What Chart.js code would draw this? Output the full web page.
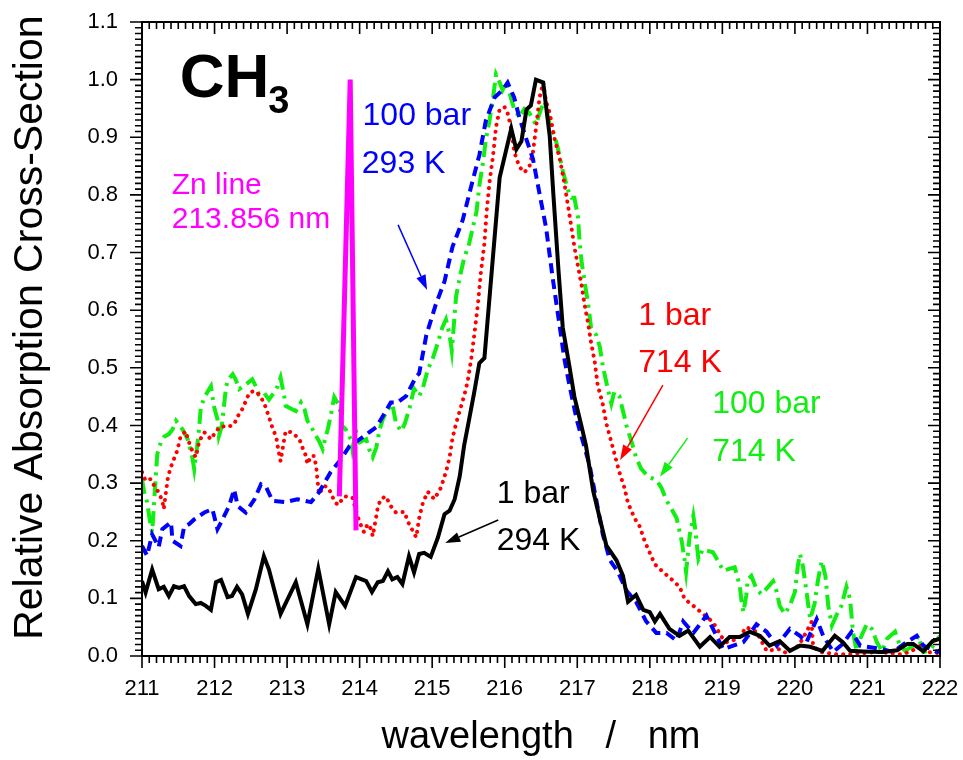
<!DOCTYPE html>
<html lang="en">
<head>
<meta charset="UTF-8">
<title>CH3 absorption</title>
<script src="https://cdn.jsdelivr.net/npm/chart.js"></script>
<style>
  html, body { margin: 0; padding: 0; background: #fff; }
</style>
</head>
<body>
<canvas id="grafico" width="963" height="760"></canvas>
<script>
// eixos
const xTicks = [211, 212, 213, 214, 215, 216, 217, 218, 219, 220, 221, 222];
const yTicks = [0.0, 0.1, 0.2, 0.3, 0.4, 0.5, 0.6, 0.7, 0.8, 0.9, 1.0, 1.1];

// 1 bar, 294 K (preto)
const wl1bar294 = [211.00,211.05,211.14,211.23,211.30,211.37,211.44,211.51,211.58,211.65,211.74,211.81,211.88,211.95,212.02,212.09,212.18,212.24,212.31,212.38,212.46,212.57,212.68,212.75,212.91,213.12,213.28,213.43,213.58,213.67,213.80,213.95,214.09,214.17,214.25,214.32,214.39,214.45,214.52,214.59,214.68,214.75,214.82,214.89,214.98,215.08,215.17,215.24,215.31,215.38,215.44,215.51,215.58,215.65,215.72,215.93,216.09,216.16,216.23,216.30,216.36,216.43,216.53,216.62,216.67,216.74,216.80,216.89,216.96,217.06,217.12,217.22,217.31,217.40,217.54,217.63,217.70,217.81,217.91,218.00,218.07,218.14,218.27,218.41,218.53,218.69,218.83,218.96,219.10,219.24,219.38,219.52,219.65,219.79,219.93,220.07,220.21,220.38,220.55,220.66,220.76,220.94,221.21,221.41,221.55,221.63,221.77,221.90,222.00];
const val1bar294 = [0.13,0.11,0.15,0.116,0.12,0.104,0.121,0.118,0.121,0.104,0.09,0.092,0.087,0.08,0.128,0.132,0.102,0.104,0.12,0.107,0.073,0.116,0.173,0.15,0.073,0.128,0.055,0.151,0.055,0.111,0.087,0.137,0.13,0.111,0.128,0.13,0.147,0.133,0.137,0.125,0.173,0.145,0.177,0.179,0.172,0.206,0.246,0.252,0.272,0.312,0.365,0.411,0.458,0.508,0.517,0.83,0.915,0.879,0.893,0.948,0.955,1.0,0.995,0.902,0.802,0.671,0.57,0.504,0.45,0.398,0.365,0.286,0.239,0.192,0.166,0.139,0.094,0.106,0.08,0.076,0.06,0.073,0.047,0.035,0.044,0.016,0.033,0.016,0.033,0.033,0.042,0.035,0.018,0.026,0.009,0.018,0.016,0.009,0.035,0.024,0.009,0.008,0.007,0.01,0.021,0.021,0.008,0.026,0.03];

// 100 bar, 293 K (azul)
const wl100bar293 = [211.00,211.07,211.14,211.23,211.28,211.40,211.42,211.53,211.58,211.65,211.72,211.86,211.97,212.04,212.09,212.20,212.27,212.32,212.43,212.55,212.64,212.71,212.80,212.98,213.14,213.33,213.44,213.60,213.74,213.86,214.00,214.13,214.23,214.32,214.43,214.52,214.64,214.78,214.82,214.92,215.05,215.17,215.28,215.42,215.54,215.65,215.74,215.86,215.97,216.04,216.13,216.20,216.30,216.39,216.48,216.57,216.66,216.76,216.82,216.89,216.99,217.08,217.17,217.26,217.35,217.45,217.56,217.68,217.81,217.95,218.09,218.23,218.37,218.46,218.60,218.78,219.01,219.29,219.47,219.61,219.75,219.93,220.07,220.16,220.30,220.39,220.53,220.66,220.78,220.90,221.21,221.35,221.54,221.68,221.77,221.96,222.00];
const val100bar293 = [0.191,0.174,0.211,0.189,0.22,0.232,0.2,0.191,0.224,0.229,0.237,0.249,0.255,0.22,0.232,0.26,0.289,0.26,0.249,0.272,0.298,0.293,0.269,0.267,0.272,0.267,0.284,0.319,0.341,0.364,0.376,0.388,0.397,0.416,0.44,0.44,0.451,0.485,0.49,0.557,0.61,0.65,0.71,0.756,0.816,0.869,0.929,0.969,0.982,0.995,0.969,0.935,0.896,0.862,0.802,0.743,0.657,0.57,0.517,0.471,0.411,0.371,0.331,0.272,0.212,0.166,0.146,0.113,0.094,0.06,0.04,0.04,0.027,0.06,0.04,0.07,0.012,0.024,0.055,0.042,0.018,0.047,0.035,0.024,0.064,0.035,0.007,0.021,0.042,0.018,0.012,0.007,0.024,0.035,0.018,0.007,0.01];

// 1 bar, 714 K (vermelho)
const wl1bar714 = [211.00,211.05,211.12,211.17,211.23,211.28,211.30,211.33,211.36,211.42,211.47,211.50,211.53,211.60,211.67,211.74,211.79,211.86,211.95,212.02,212.09,212.18,212.27,212.32,212.38,212.43,212.48,212.55,212.61,212.68,212.75,212.80,212.85,212.87,212.91,212.96,212.98,213.07,213.17,213.21,213.26,213.28,213.33,213.37,213.40,213.42,213.44,213.51,213.56,213.60,213.65,213.70,213.79,213.90,213.97,214.02,214.06,214.11,214.16,214.18,214.23,214.25,214.29,214.36,214.43,214.50,214.62,214.66,214.72,214.78,214.82,214.87,214.94,215.03,215.12,215.19,215.24,215.28,215.33,215.38,215.44,215.49,215.54,215.58,215.63,215.67,215.72,215.75,215.79,215.84,215.88,215.93,216.00,216.04,216.09,216.13,216.20,216.27,216.34,216.39,216.43,216.48,216.53,216.57,216.62,216.69,216.76,216.82,216.87,216.92,216.96,217.01,217.06,217.10,217.15,217.19,217.24,217.28,217.35,217.40,217.47,217.54,217.58,217.65,217.70,217.79,217.86,217.93,218.00,218.07,218.18,218.30,218.41,218.48,218.62,218.78,218.87,218.99,219.06,219.22,219.33,219.47,219.61,219.79,219.88,220.05,220.16,220.23,220.25,220.34,220.57,220.76,220.94,221.13,221.31,221.45,221.59,221.73,221.79,222.00];
const val1bar714 = [0.319,0.304,0.307,0.295,0.284,0.269,0.255,0.284,0.312,0.336,0.35,0.364,0.38,0.39,0.362,0.345,0.373,0.388,0.376,0.39,0.399,0.397,0.402,0.416,0.428,0.442,0.457,0.46,0.454,0.44,0.415,0.395,0.38,0.364,0.338,0.376,0.39,0.388,0.376,0.362,0.347,0.333,0.347,0.347,0.33,0.304,0.281,0.295,0.293,0.284,0.269,0.262,0.277,0.275,0.243,0.226,0.215,0.229,0.22,0.208,0.243,0.258,0.272,0.277,0.26,0.249,0.25,0.234,0.22,0.206,0.239,0.265,0.285,0.272,0.292,0.319,0.345,0.378,0.404,0.425,0.451,0.477,0.517,0.557,0.61,0.664,0.716,0.77,0.822,0.869,0.918,0.949,0.952,0.942,0.915,0.875,0.849,0.839,0.849,0.875,0.915,0.969,0.995,0.962,0.942,0.896,0.862,0.822,0.783,0.743,0.71,0.676,0.643,0.61,0.577,0.544,0.511,0.471,0.438,0.404,0.371,0.338,0.319,0.292,0.265,0.239,0.225,0.199,0.179,0.159,0.146,0.133,0.12,0.099,0.085,0.068,0.059,0.033,0.024,0.03,0.05,0.042,0.009,0.012,0.005,0.018,0.042,0.059,0.018,0.007,0.003,0.003,0.005,0.007,0.005,0.003,0.007,0.018,0.007,0.005];

// 100 bar, 714 K (verde)
const wl100bar714 = [211.00,211.03,211.07,211.12,211.14,211.17,211.19,211.21,211.26,211.30,211.37,211.42,211.47,211.56,211.63,211.69,211.72,211.76,211.79,211.81,211.86,211.95,211.97,211.99,212.04,212.06,212.10,212.13,212.16,212.19,212.25,212.29,212.34,212.43,212.52,212.57,212.61,212.68,212.75,212.82,212.87,212.91,212.96,212.98,213.07,213.12,213.19,213.24,213.28,213.33,213.37,213.44,213.49,213.53,213.56,213.60,213.65,213.72,213.76,213.81,213.88,213.90,213.95,214.00,214.09,214.13,214.18,214.23,214.27,214.32,214.39,214.45,214.50,214.57,214.62,214.69,214.75,214.82,214.87,214.94,215.01,215.08,215.14,215.19,215.24,215.27,215.33,215.38,215.44,215.51,215.56,215.61,215.65,215.70,215.74,215.79,215.84,215.88,215.93,215.97,216.02,216.07,216.13,216.20,216.27,216.34,216.43,216.50,216.55,216.62,216.69,216.73,216.80,216.87,216.92,216.96,217.01,217.03,217.06,217.10,217.15,217.19,217.26,217.31,217.35,217.42,217.47,217.51,217.58,217.63,217.68,217.75,217.81,217.88,217.97,218.09,218.16,218.23,218.30,218.37,218.44,218.48,218.50,218.55,218.60,218.62,218.67,218.73,218.87,218.94,219.01,219.17,219.24,219.26,219.29,219.33,219.35,219.40,219.47,219.54,219.63,219.70,219.75,219.79,219.86,219.93,220.00,220.04,220.07,220.11,220.16,220.21,220.27,220.32,220.37,220.42,220.46,220.51,220.57,220.64,220.71,220.76,220.80,220.85,220.90,220.99,221.06,221.13,221.20,221.27,221.38,221.44,221.52,221.63,221.70,221.77,221.86,222.00];
const val100bar714 = [0.307,0.284,0.267,0.226,0.215,0.272,0.312,0.35,0.371,0.38,0.385,0.393,0.408,0.393,0.376,0.347,0.324,0.364,0.399,0.431,0.449,0.468,0.451,0.434,0.411,0.382,0.399,0.434,0.468,0.48,0.489,0.48,0.463,0.471,0.48,0.468,0.454,0.457,0.445,0.457,0.468,0.483,0.451,0.434,0.428,0.425,0.44,0.428,0.408,0.399,0.388,0.373,0.359,0.38,0.393,0.416,0.449,0.434,0.399,0.393,0.376,0.359,0.39,0.371,0.376,0.359,0.345,0.362,0.39,0.411,0.428,0.437,0.405,0.39,0.402,0.431,0.464,0.451,0.464,0.497,0.517,0.544,0.57,0.584,0.557,0.53,0.624,0.657,0.69,0.716,0.743,0.77,0.816,0.856,0.896,0.929,0.969,1.009,0.995,0.982,0.995,0.975,0.949,0.935,0.949,0.942,0.922,0.949,0.962,0.922,0.902,0.882,0.842,0.809,0.795,0.795,0.762,0.723,0.683,0.65,0.61,0.57,0.557,0.537,0.504,0.464,0.438,0.458,0.451,0.425,0.399,0.371,0.345,0.325,0.312,0.305,0.292,0.27,0.255,0.239,0.199,0.166,0.146,0.209,0.243,0.226,0.168,0.185,0.18,0.165,0.148,0.154,0.122,0.099,0.076,0.105,0.133,0.139,0.116,0.107,0.12,0.13,0.111,0.087,0.073,0.087,0.111,0.156,0.177,0.156,0.111,0.064,0.09,0.133,0.165,0.139,0.087,0.053,0.07,0.087,0.12,0.099,0.042,0.009,0.03,0.055,0.047,0.024,0.008,0.03,0.042,0.021,0.009,0.018,0.035,0.007,0.01,0.035];

// linha do Zn 213.856 nm
const wlZn = [213.72, 213.87, 213.95];
const valZn = [0.277, 1.0, 0.218];

function pares(xs, ys) {
    return xs.map(function (x, i) { return { x: x, y: ys[i] }; });
}

const fonte = "'Liberation Sans', Arial, sans-serif";

// textos e setas (coordenadas em nm / valor)
const textos = [
    { t: '100 bar', x: 214.04, y: 0.921, cor: '#0000ff', tam: 32 },
    { t: '293 K', x: 214.03, y: 0.838, cor: '#0000ff', tam: 32 },
    { t: 'Zn line', x: 211.41, y: 0.801, cor: '#ff00ff', tam: 30 },
    { t: '213.856 nm', x: 211.41, y: 0.743, cor: '#ff00ff', tam: 30 },
    { t: '1 bar', x: 217.84, y: 0.574, cor: '#ff0000', tam: 32 },
    { t: '714 K', x: 217.84, y: 0.493, cor: '#ff0000', tam: 32 },
    { t: '100 bar', x: 218.86, y: 0.422, cor: '#11ee11', tam: 32 },
    { t: '714 K', x: 218.86, y: 0.338, cor: '#11ee11', tam: 32 },
    { t: '1 bar', x: 215.89, y: 0.265, cor: '#000000', tam: 32 },
    { t: '294 K', x: 215.89, y: 0.184, cor: '#000000', tam: 32 }
];
const setas = [
    { x1: 214.53, y1: 0.748, x2: 214.93, y2: 0.635, cor: '#0000ff' },
    { x1: 218.18, y1: 0.470, x2: 217.59, y2: 0.340, cor: '#ff0000' },
    { x1: 218.52, y1: 0.378, x2: 218.14, y2: 0.311, cor: '#11ee11' },
    { x1: 215.91, y1: 0.236, x2: 215.18, y2: 0.196, cor: '#000000' }
];

const anotacoes = {
    id: 'anotacoes',
    afterDatasetsDraw(chart) {
        const ctx = chart.ctx, sx = chart.scales.x, sy = chart.scales.y;
        ctx.save();
        ctx.textBaseline = 'alphabetic';
        ctx.textAlign = 'left';
        textos.forEach(function (n) {
            ctx.font = n.tam + 'px ' + fonte;
            ctx.fillStyle = n.cor;
            ctx.fillText(n.t, sx.getPixelForValue(n.x), sy.getPixelForValue(n.y));
        });
        // CH3
        ctx.fillStyle = '#000';
        ctx.font = 'bold 62px ' + fonte;
        ctx.fillText('CH', sx.getPixelForValue(211.52), sy.getPixelForValue(0.970));
        ctx.font = 'bold 38px ' + fonte;
        ctx.fillText('3', sx.getPixelForValue(212.74), sy.getPixelForValue(0.942));

        setas.forEach(function (s) {
            const x1 = sx.getPixelForValue(s.x1), y1 = sy.getPixelForValue(s.y1);
            const x2 = sx.getPixelForValue(s.x2), y2 = sy.getPixelForValue(s.y2);
            const ang = Math.atan2(y2 - y1, x2 - x1);
            const L = 15, W = 5;
            ctx.strokeStyle = s.cor;
            ctx.fillStyle = s.cor;
            ctx.lineWidth = 1.5;
            ctx.beginPath();
            ctx.moveTo(x1, y1);
            ctx.lineTo(x2 - L * Math.cos(ang), y2 - L * Math.sin(ang));
            ctx.stroke();
            ctx.beginPath();
            ctx.moveTo(x2, y2);
            ctx.lineTo(x2 - L * Math.cos(ang) + W * Math.sin(ang), y2 - L * Math.sin(ang) - W * Math.cos(ang));
            ctx.lineTo(x2 - L * Math.cos(ang) - W * Math.sin(ang), y2 - L * Math.sin(ang) + W * Math.cos(ang));
            ctx.closePath();
            ctx.fill();
        });
        ctx.restore();
    },
    afterDraw(chart) {
        // moldura e marcas (menores a cada 0.1 nm e 0.01)
        const ctx = chart.ctx, a = chart.chartArea, sx = chart.scales.x, sy = chart.scales.y;
        ctx.save();
        ctx.strokeStyle = '#000';
        ctx.lineWidth = 2;
        ctx.strokeRect(a.left, a.top, a.right - a.left, a.bottom - a.top);
        ctx.lineWidth = 1.6;
        ctx.beginPath();
        for (let i = 0; i <= 110; i++) {
            const px = sx.getPixelForValue(211 + i * 0.1);
            const len = (i % 10 === 0) ? 12 : 7;
            ctx.moveTo(px, a.bottom); ctx.lineTo(px, a.bottom + len);
            ctx.moveTo(px, a.top); ctx.lineTo(px, a.top + len);
        }
        for (let i = 0; i <= 110; i++) {
            const py = sy.getPixelForValue(i * 0.01);
            const len = (i % 10 === 0) ? 12 : 7;
            ctx.moveTo(a.left, py); ctx.lineTo(a.left - len, py);
            ctx.moveTo(a.right, py); ctx.lineTo(a.right - len, py);
        }
        ctx.stroke();
        ctx.restore();
    }
};

const config = {
    type: 'scatter',
    data: {
        datasets: [
            { label: 'Zn line', data: pares(wlZn, valZn), borderColor: '#ff00ff', borderWidth: 5 },
            { label: '1 bar 294 K', data: pares(wl1bar294, val1bar294), borderColor: '#000000', borderWidth: 4 },
            { label: '100 bar 293 K', data: pares(wl100bar293, val100bar293), borderColor: '#0000ff', borderWidth: 4, borderDash: [10, 6] },
            { label: '1 bar 714 K', data: pares(wl1bar714, val1bar714), borderColor: '#ff0000', borderWidth: 4, borderDash: [0.1, 7], borderCapStyle: 'round' },
            { label: '100 bar 714 K', data: pares(wl100bar714, val100bar714), borderColor: '#11ee11', borderWidth: 4, borderDash: [15, 6, 3, 6] }
        ]
    },
    options: {
        responsive: false,
        animation: false,
        showLine: true,
        elements: { point: { radius: 0 }, line: { tension: 0, fill: false } },
        layout: { padding: { top: 22, right: 23, left: 0, bottom: 0 } },
        plugins: { legend: { display: false }, tooltip: { enabled: false } },
        scales: {
            x: {
                type: 'linear', min: 211, max: 222,
                afterBuildTicks: function (s) { s.ticks = xTicks.map(function (v) { return { value: v }; }); },
                afterFit: function (s) { s.height = 104; s.paddingLeft = 0; s.paddingRight = 0; },
                grid: { display: false, drawTicks: false },
                border: { display: false },
                ticks: { color: '#000', font: { family: fonte, size: 22 }, padding: 20, maxRotation: 0,
                    callback: function (v) { return String(v); } },
                title: { display: true, text: 'wavelength   /   nm', color: '#000',
                    font: { family: fonte, size: 38 }, padding: { top: 0, bottom: 0 } }
            },
            y: {
                type: 'linear', min: 0, max: 1.1,
                afterBuildTicks: function (s) { s.ticks = yTicks.map(function (v) { return { value: v }; }); },
                afterFit: function (s) { s.width = 142; s.paddingTop = 0; s.paddingBottom = 0; },
                grid: { display: false, drawTicks: false },
                border: { display: false },
                ticks: { color: '#000', font: { family: fonte, size: 22 }, padding: 24,
                    callback: function (v) { return Number(v).toFixed(1); } },
                title: { display: true, text: '  Relative Absorption Cross-Section', color: '#000',
                    font: { family: fonte, size: 41 }, padding: { top: 6, bottom: 0 } }
            }
        }
    },
    plugins: [anotacoes]
};

new Chart(document.getElementById('grafico'), config);
</script>
</body>
</html>
